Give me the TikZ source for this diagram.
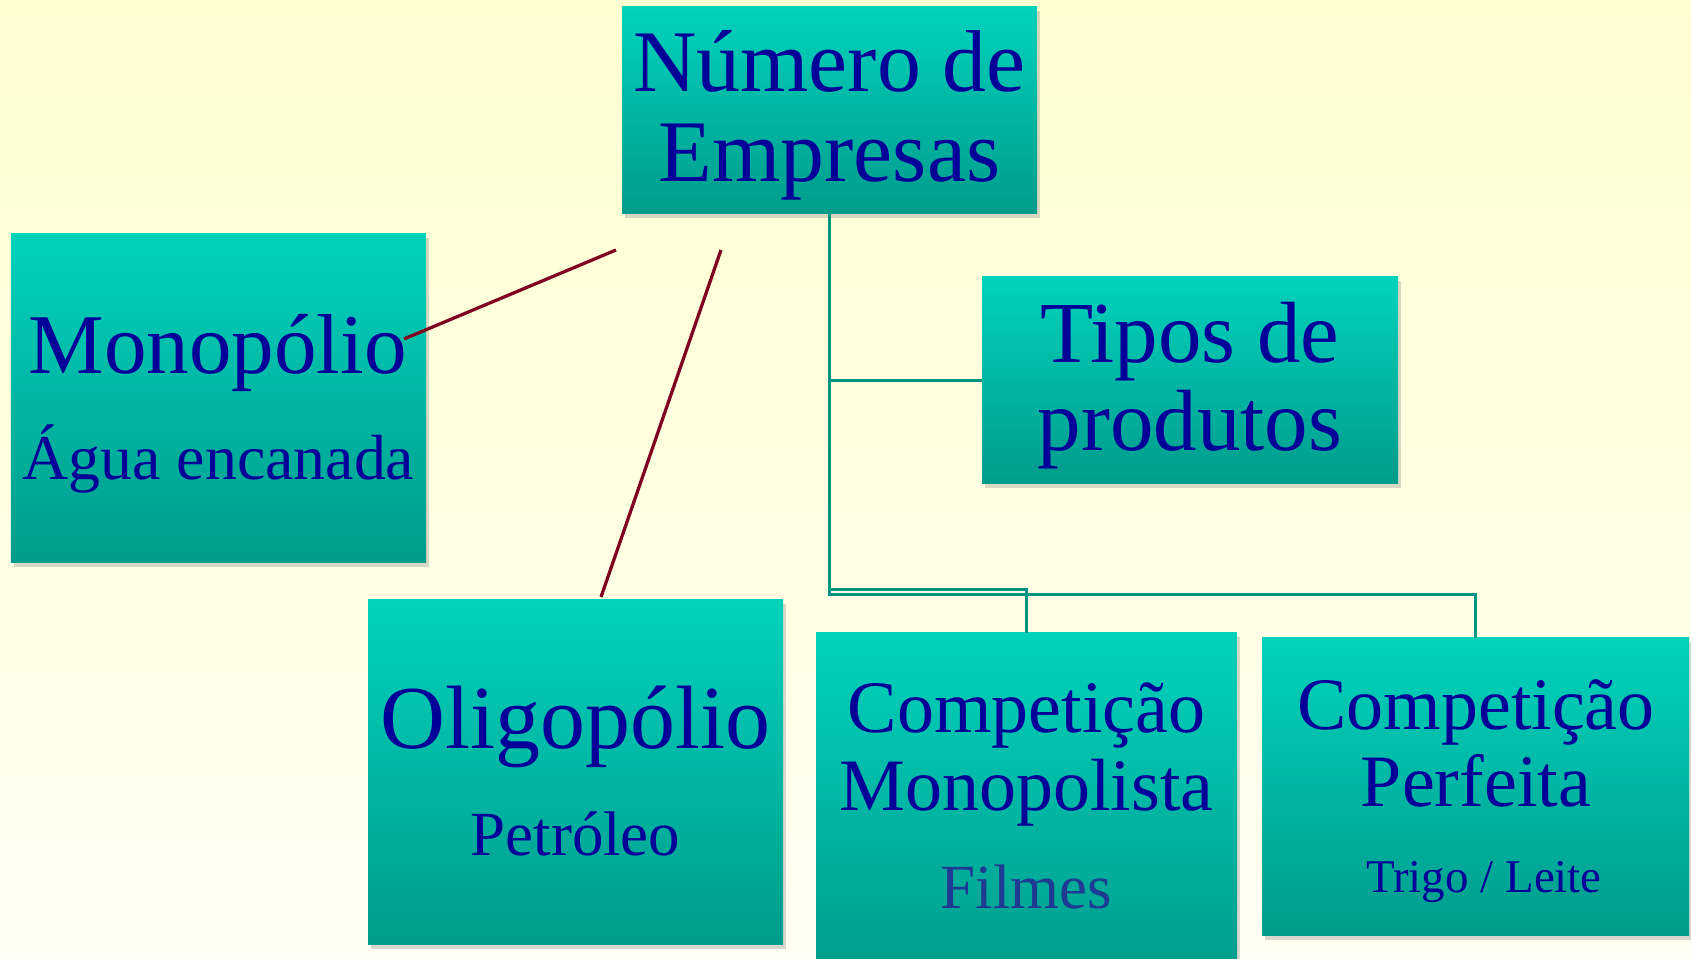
\documentclass[tikz,border=0pt]{standalone}
\usepackage{fontspec}
\setmainfont{Liberation Serif}
\usetikzlibrary{shadows}
\definecolor{bgtop}{RGB}{255,255,208}
\definecolor{bgbot}{RGB}{255,255,243}
\definecolor{boxtop}{RGB}{0,210,188}
\definecolor{boxbot}{RGB}{0,156,140}
\definecolor{textblue}{RGB}{0,0,153}
\definecolor{filmblue}{RGB}{31,58,147}
\definecolor{linkteal}{RGB}{0,150,130}
\definecolor{linkred}{RGB}{128,0,32}
\tikzset{
  box/.style={draw=none, top color=boxtop, bottom color=boxbot, inner sep=0pt,
    drop shadow={shadow xshift=0.06cm, shadow yshift=-0.09cm, opacity=0.3}},
  lbl/.style={anchor=base, text=textblue, inner sep=0pt},
  link/.style={draw=linkteal, line width=0.06cm},
  redlink/.style={draw=linkred, line width=0.065cm},
}
\begin{document}
\begin{tikzpicture}
  \clip (0,0) rectangle (33.82,19.16);
  \shade[top color=bgtop, bottom color=bgbot] (0,0) rectangle (33.82,19.16);
  % boxes
  \node[box, minimum width=8.3cm, minimum height=4.14cm] (emp) at (16.59,16.95) {};
  \node[box, minimum width=8.3cm, minimum height=6.58cm] (mono) at (4.37,11.19) {};
  \node[box, minimum width=8.32cm, minimum height=4.14cm] (tipos) at (23.8,11.55) {};
  \node[box, minimum width=8.3cm, minimum height=6.9cm] (oligo) at (11.51,3.71) {};
  \node[box, minimum width=8.42cm, minimum height=6.9cm] (cmono) at (20.53,3.05) {};
  \node[box, minimum width=8.54cm, minimum height=5.94cm] (cperf) at (29.51,3.43) {};

  % texts
  \node[lbl, font=\fontsize{50}{51}\selectfont] (emp1) at (16.59,17.32) {Número de};
  \node[lbl, font=\fontsize{50}{51}\selectfont] (emp2) at (16.59,15.52) {Empresas};
  \node[lbl, font=\fontsize{48.4}{50}\selectfont] (mono1) at (4.35,11.68) {Monopólio};
  \node[lbl, font=\fontsize{36.3}{37}\selectfont] (mono2) at (4.37,9.56) {Água encanada};
  \node[lbl, font=\fontsize{49.5}{51}\selectfont] (tipos1) at (23.8,11.9) {Tipos de};
  \node[lbl, font=\fontsize{49.5}{51}\selectfont] (tipos2) at (23.8,10.14) {produtos};
  \node[lbl, font=\fontsize{51.2}{53}\selectfont] (oligo1) at (11.51,4.18) {Oligopólio};
  \node[lbl, font=\fontsize{35.8}{37}\selectfont] (oligo2) at (11.51,2.06) {Petróleo};
  \node[lbl, font=\fontsize{42.1}{44}\selectfont] (cmono1) at (20.53,4.5) {Competição};
  \node[lbl, font=\fontsize{42.1}{44}\selectfont] (cmono2) at (20.53,2.94) {Monopolista};
  \node[lbl, text=filmblue, font=\fontsize{35.8}{37}\selectfont] (cmono3) at (20.53,0.98) {Filmes};
  \node[lbl, font=\fontsize{42.1}{44}\selectfont] (cperf1) at (29.52,4.56) {Competição};
  \node[lbl, font=\fontsize{42.1}{44}\selectfont] (cperf2) at (29.52,3.02) {Perfeita};
  \node[lbl, font=\fontsize{26.7}{28}\selectfont] (cperf3) at (29.68,1.3) {Trigo / Leite};

  % links
  \draw[link] (emp.south) -- ++(0,-7.5) -| (cmono.north);
  \draw[link] (emp.south) -- ++(0,-7.6) -| (cperf.north);
  \draw[link] (emp.south |- tipos.west) -- (tipos.west);
  \coordinate (r1) at (12.32,14.16);
  \coordinate (r2) at (8.08,12.38);
  \coordinate (r3) at (14.42,14.16);
  \coordinate (r4) at (12.02,7.22);
  \draw[redlink] (r1) -- (r2);
  \draw[redlink] (r3) -- (r4);
\end{tikzpicture}
\end{document}
